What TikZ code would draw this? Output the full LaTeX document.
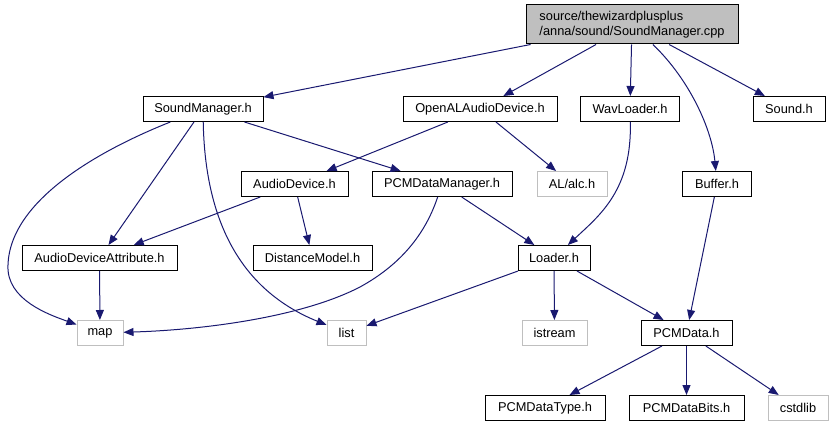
\documentclass[tikz,border=0pt]{standalone}
\usepackage{fontspec}
\setmainfont{Liberation Sans}
\usetikzlibrary{arrows.meta}
\definecolor{edgeblue}{HTML}{191970}
\definecolor{extgray}{HTML}{BFBFBF}

\begin{document}
\begin{tikzpicture}[>={Triangle[length=10pt,width=8pt]}, x=1pt, y=-1pt,
  hdr/.style={draw, line width=1pt, minimum height=25pt, inner sep=0pt, font=\fontsize{12.8}{15}\selectfont},
  ext/.style={hdr, draw=extgray},
  dep/.style={->, draw=edgeblue, line width=1pt},]
\useasboundingbox (0,0) rectangle (835,427);
\node[hdr, fill=extgray, minimum width=212pt, minimum height=39pt, align=left] (1) at (632, 24.5) {source/thewizardplusplus\\/anna/sound/SoundManager.cpp};
\node[hdr, minimum width=120pt] (2) at (203, 109) {SoundManager.h};
\node[hdr, minimum width=154pt] (3) at (480, 109) {OpenALAudioDevice.h};
\node[hdr, minimum width=99pt] (4) at (630, 109) {WavLoader.h};
\node[hdr, minimum width=72pt] (5) at (789, 109) {Sound.h};
\node[hdr, minimum width=107pt] (6) at (294.5, 184) {AudioDevice.h};
\node[hdr, minimum width=140pt] (7) at (442, 184) {PCMDataManager.h};
\node[ext, minimum width=70pt] (8) at (572, 184) {AL/alc.h};
\node[hdr, minimum width=69pt] (9) at (717, 184) {Buffer.h};
\node[hdr, minimum width=155pt] (10) at (99.5, 258) {AudioDeviceAttribute.h};
\node[hdr, minimum width=119pt] (11) at (312.5, 258) {DistanceModel.h};
\node[hdr, minimum width=72pt] (12) at (554, 258) {Loader.h};
\node[ext, minimum width=46pt] (13) at (100, 333) {map};
\node[ext, minimum width=39pt] (14) at (346.5, 333) {list};
\node[ext, minimum width=65pt] (15) at (554.5, 333) {istream};
\node[hdr, minimum width=91pt] (16) at (686.5, 333) {PCMData.h};
\node[hdr, minimum width=120pt] (17) at (545, 408) {PCMDataType.h};
\node[hdr, minimum width=115pt] (18) at (686.5, 408) {PCMDataBits.h};
\node[ext, minimum width=60pt] (19) at (798, 408) {cstdlib};
% from the .cpp
 \draw [dep] (1)--(2);
 \draw [dep] (1)--(3);
 \draw [dep] (1)--(4);
 \draw [dep] (1)--(5);
 \draw [dep] (1) .. controls (690,80) and (712,130) .. (9);
% first row
 \draw [dep] (2) .. controls (100,150) and (10,200) .. (8,265) .. controls (6,300) and (50,315) .. (13);
 \draw [dep] (2)--(10);
 \draw [dep] (2) .. controls (205,220) and (240,290) .. (14);
 \draw [dep] (2)--(7);
 \draw [dep] (3)--(6);
 \draw [dep] (3)--(8);
 \draw [dep] (4) .. controls (632,190) and (600,215) .. (12);
% second row
 \draw [dep] (6)--(10);
 \draw [dep] (6)--(11);
 \draw [dep] (7) .. controls (425,235) and (400,265) .. (360,287) .. controls (300,318) and (200,330) .. (13);
 \draw [dep] (7)--(12);
 \draw [dep] (9)--(16);
% lower rows
 \draw [dep] (10)--(13);
 \draw [dep] (12)--(14);
 \draw [dep] (12)--(15);
 \draw [dep] (12)--(16);
 \draw [dep] (16)--(17);
 \draw [dep] (16)--(18);
 \draw [dep] (16)--(19);
\end{tikzpicture}
\end{document}
